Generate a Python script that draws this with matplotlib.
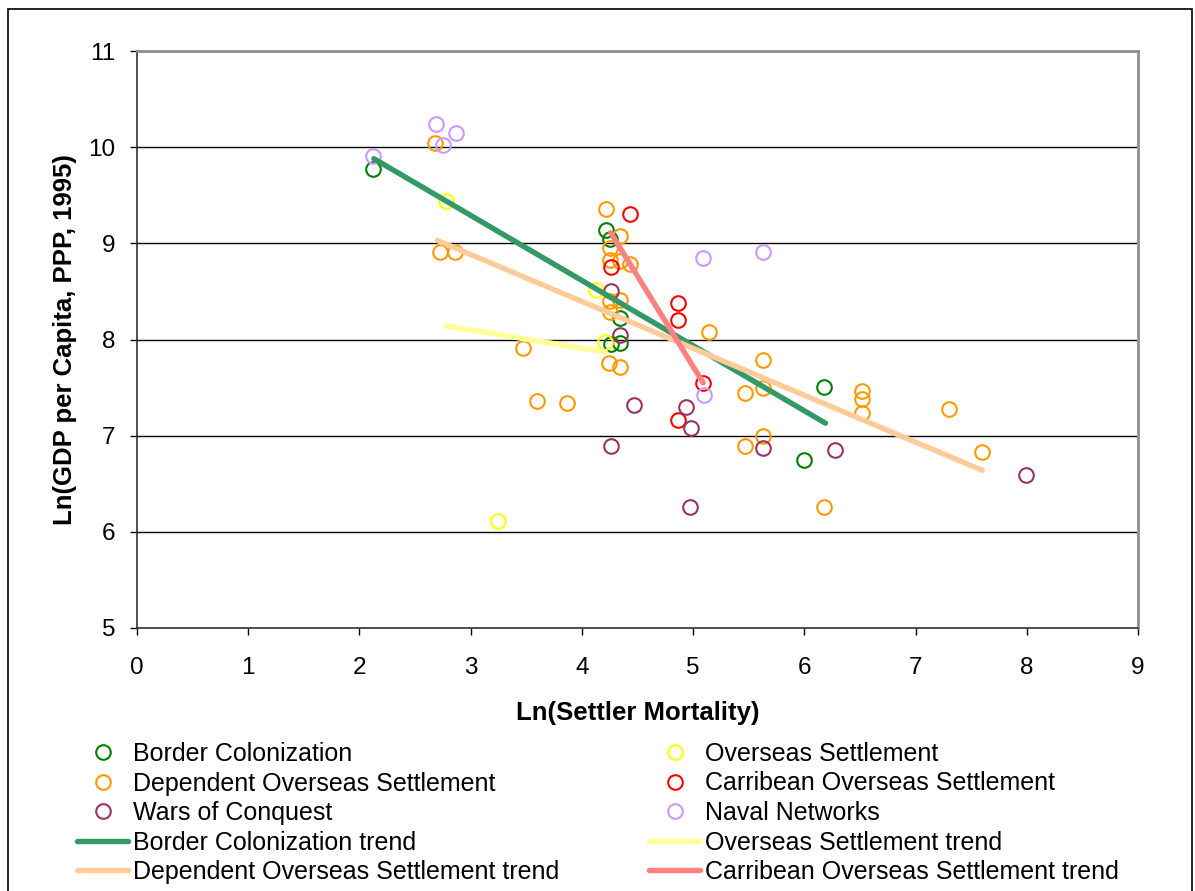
import matplotlib
matplotlib.use("Agg")
import matplotlib.pyplot as plt
from matplotlib.patches import Rectangle

plt.rcParams['font.family'] = ['Liberation Sans', 'DejaVu Sans']

# 산점도 데이터
bc_x = [2.12, 4.22, 4.25, 4.34, 4.34, 4.26, 6.18, 6.00]
bc_y = [9.77, 9.14, 9.04, 8.22, 7.96, 7.95, 7.51, 6.75]

os_x = [2.78, 4.13, 4.21, 3.25]
os_y = [9.44, 8.51, 7.97, 6.11]

ds_x = [2.68, 2.72, 2.86, 4.22, 4.34, 4.25, 4.25, 4.34, 4.43, 4.34, 4.25, 4.25,
        4.24, 4.34, 5.14, 5.47, 5.63, 5.63, 5.63, 5.47, 3.60, 3.87, 3.47,
        6.52, 6.52, 6.52, 7.30, 7.60, 6.18]
ds_y = [10.04, 8.91, 8.91, 9.36, 9.08, 8.95, 8.83, 8.82, 8.79, 8.41, 8.40, 8.29,
        7.76, 7.71, 8.08, 7.44, 7.50, 7.79, 7.00, 6.89, 7.36, 7.34, 7.91,
        7.46, 7.38, 7.24, 7.28, 6.83, 6.26]

cs_x = [4.43, 4.26, 4.86, 4.86, 5.09, 4.86]
cs_y = [9.30, 8.75, 8.38, 8.20, 7.55, 7.16]

wc_x = [4.26, 4.34, 4.47, 4.94, 4.98, 4.26, 5.63, 6.28, 7.99, 4.97]
wc_y = [8.50, 8.05, 7.32, 7.30, 7.08, 6.89, 6.87, 6.85, 6.59, 6.26]

nn_x = [2.12, 2.69, 2.87, 2.75, 5.09, 5.63, 5.10]
nn_y = [9.91, 10.24, 10.15, 10.02, 8.85, 8.91, 7.42]

# 추세선 (양 끝점)
bc_tx = [2.13, 6.19]
bc_ty = [9.88, 7.13]
os_tx = [2.78, 4.21]
os_ty = [8.14, 7.87]
ds_tx = [2.70, 7.60]
ds_ty = [9.03, 6.64]
cs_tx = [4.26, 5.09]
cs_ty = [9.11, 7.55]

fig = plt.figure(figsize=(11.95, 8.91), dpi=100)
ax = fig.add_axes([137/1195, 1-628/891, (1138-137)/1195, (628-51)/891])

mk = dict(marker='o', linestyle='none', markersize=10.5, markerfacecolor='none',
          markeredgewidth=1.5, zorder=3)
h_bc, = ax.plot(bc_x, bc_y, markeredgecolor='#008000', label='Border Colonization', **mk)
h_os, = ax.plot(os_x, os_y, markeredgecolor='#FFFF00', label='Overseas Settlement', **mk)
h_ds, = ax.plot(ds_x, ds_y, markeredgecolor='#FF9900', label='Dependent Overseas Settlement', **mk)
h_cs, = ax.plot(cs_x, cs_y, markeredgecolor='#FF0000', label='Carribean Overseas Settlement', **mk)
h_wc, = ax.plot(wc_x, wc_y, markeredgecolor='#993366', label='Wars of Conquest', **mk)
h_nn, = ax.plot(nn_x, nn_y, markeredgecolor='#CC99FF', label='Naval Networks', **mk)

lw = 3.9
t_bc, = ax.plot(bc_tx, bc_ty, color='#339966', lw=lw, solid_capstyle='round', zorder=4,
                label='Border Colonization trend')
t_os, = ax.plot(os_tx, os_ty, color='#FFFF99', lw=lw, solid_capstyle='round', zorder=5,
                label='Overseas Settlement trend')
t_ds, = ax.plot(ds_tx, ds_ty, color='#FFCC99', lw=lw, solid_capstyle='round', zorder=6,
                label='Dependent Overseas Settlement trend')
t_cs, = ax.plot(cs_tx, cs_ty, color='#FF8080', lw=lw, solid_capstyle='round', zorder=7,
                label='Carribean Overseas Settlement trend')

ax.set_xlim(0, 9)
ax.set_ylim(5, 11)
ax.set_xticks(range(0, 10))
ax.set_yticks(range(5, 12))
ax.grid(axis='y', color='black', lw=1)
ax.set_axisbelow(True)
ax.tick_params(labelsize=17.5, length=5, width=1, direction='out')
ax.tick_params(axis='x', pad=16)
ax.tick_params(axis='y', pad=10.5)
for s in ['top', 'right']:
    ax.spines[s].set_color('#909090')
    ax.spines[s].set_linewidth(2)
for s in ['left', 'bottom']:
    ax.spines[s].set_color('#333333')
    ax.spines[s].set_linewidth(1.2)

ax.set_xlabel('Ln(Settler Mortality)', fontsize=18.5, fontweight='bold', labelpad=16)
ax.set_ylabel('Ln(GDP per Capita, PPP, 1995)', fontsize=18.5, fontweight='bold', labelpad=8)

# 범례: 두 열을 따로 배치
col1 = [h_bc, h_ds, h_wc, t_bc, t_ds]
col2 = [h_os, h_cs, h_nn, t_os, t_cs]
leg_kw = dict(loc='upper left', frameon=False, fontsize=18, handlelength=2.05,
              handletextpad=0.2, labelspacing=0.22, borderaxespad=0, borderpad=0)
fig.legend(handles=col1, labels=[h.get_label() for h in col1],
           bbox_to_anchor=(77/1195, 1-742/891), **leg_kw)
fig.legend(handles=col2, labels=[h.get_label() for h in col2],
           bbox_to_anchor=(649/1195, 1-742/891), **leg_kw)

# 바깥 테두리
fig.patches.append(Rectangle((8/1195, -0.05), (1192-8)/1195, 1.05-9/891,
                             transform=fig.transFigure, fill=False,
                             edgecolor='black', lw=1.2))

fig.savefig('out.png', dpi=100)
